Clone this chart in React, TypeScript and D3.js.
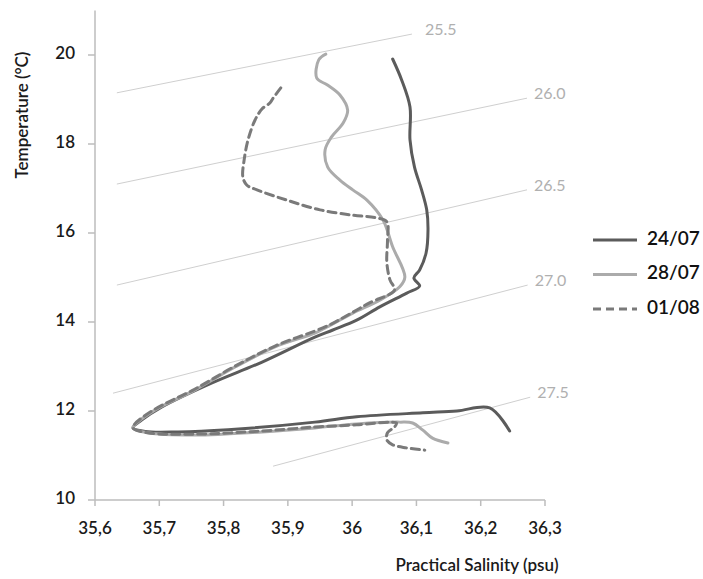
import React from "react";
import * as d3 from "d3";

const W = 703;
const H = 579;

// Salinity (psu) / Temperature (°C) profiles
const s2407 = [36.063, 36.077, 36.09, 36.09, 36.097, 36.108, 36.116, 36.118, 36.115, 36.105, 36.096, 36.105, 36.085, 36.043, 36.007, 35.97, 35.942, 35.86, 35.782, 35.704, 35.673, 35.659, 35.678, 35.729, 35.807, 35.942, 36.007, 36.11, 36.163, 36.214, 36.245];
const t2407 = [19.91, 19.44, 18.83, 18.09, 17.48, 16.97, 16.52, 16.07, 15.55, 15.17, 14.99, 14.81, 14.65, 14.34, 14.04, 13.82, 13.66, 13.1, 12.63, 12.09, 11.8, 11.62, 11.54, 11.53, 11.58, 11.75, 11.87, 11.96, 12.0, 12.07, 11.55];

const s2807 = [35.959, 35.948, 35.945, 35.961, 35.981, 35.993, 35.986, 35.968, 35.958, 35.962, 35.981, 36.001, 36.023, 36.048, 36.063, 36.082, 36.074, 36.043, 36.001, 35.961, 35.942, 35.88, 35.818, 35.755, 35.693, 35.662, 35.659, 35.682, 35.755, 35.86, 35.942, 36.007, 36.074, 36.094, 36.11, 36.125, 36.149];
const t2807 = [20.02, 19.89, 19.48, 19.33, 19.1, 18.76, 18.47, 18.16, 17.87, 17.48, 17.19, 16.97, 16.74, 16.29, 15.69, 15.01, 14.79, 14.49, 14.2, 13.89, 13.75, 13.44, 12.99, 12.47, 12.02, 11.69, 11.62, 11.51, 11.46, 11.53, 11.62, 11.71, 11.75, 11.73, 11.57, 11.39, 11.28];

const s0108 = [35.889, 35.877, 35.872, 35.86, 35.849, 35.838, 35.832, 35.83, 35.836, 35.852, 35.898, 35.95, 36.001, 36.038, 36.054, 36.055, 36.054, 36.059, 36.066, 36.027, 36.001, 35.961, 35.88, 35.818, 35.755, 35.693, 35.662, 35.659, 35.682, 35.755, 35.86, 35.942, 36.007, 36.059, 36.069, 36.066, 36.055, 36.054, 36.063, 36.085, 36.113];
const t0108 = [19.26, 19.03, 18.92, 18.79, 18.54, 18.09, 17.64, 17.26, 17.08, 16.97, 16.74, 16.52, 16.4, 16.34, 16.25, 15.84, 15.33, 14.94, 14.72, 14.43, 14.22, 13.91, 13.46, 13.01, 12.49, 12.04, 11.71, 11.62, 11.51, 11.48, 11.55, 11.64, 11.69, 11.75, 11.73, 11.64, 11.51, 11.35, 11.24, 11.17, 11.12];

// isopycnal (sigma-t) lines: endpoints in salinity / temperature
const isoLabels = ["25.5", "26.0", "26.5", "27.0", "27.5"];
const isoS0 = [35.634, 35.634, 35.634, 35.628, 35.877];
const isoT0 = [19.15, 17.1, 14.83, 12.4, 10.76];
const isoS1 = [36.093, 36.272, 36.272, 36.273, 36.277];
const isoT1 = [20.47, 19.03, 16.97, 14.83, 12.31];

const xTicks = [35.6, 35.7, 35.8, 35.9, 36.0, 36.1, 36.2, 36.3];
const xTickLabels = ["35,6", "35,7", "35,8", "35,9", "36", "36,1", "36,2", "36,3"];
const yTicks = [10, 12, 14, 16, 18, 20];

const seriesNames = ["24/07", "28/07", "01/08"];
const seriesColors = ["#5b5b5b", "#ababab", "#7a7a7a"];
const seriesDash = ["", "", "8,5"];

const FONT = "Lato, 'Open Sans', sans-serif";

export default function App() {
  const x = d3.scaleLinear().domain([35.6, 36.3]).range([95, 545]);
  const y = d3.scaleLinear().domain([10, 21]).range([500, 10.5]);

  const series = [
    d3.zip(s2407, t2407),
    d3.zip(s2807, t2807),
    d3.zip(s0108, t0108),
  ];
  const line = d3
    .line<number[]>()
    .x((d) => x(d[0]))
    .y((d) => y(d[1]))
    .curve(d3.curveCatmullRom.alpha(0.5));

  return (
    <svg
      width={W}
      height={H}
      style={{ position: "absolute", left: 0, top: 0, background: "#fff" }}
      fontFamily={FONT}
    >
      {/* isopycnals */}
      {isoLabels.map((lab, i) => (
        <g key={lab}>
          <line
            x1={x(isoS0[i])}
            y1={y(isoT0[i])}
            x2={x(isoS1[i])}
            y2={y(isoT1[i])}
            stroke="#cfcfcf"
            strokeWidth={1}
          />
          <text
            x={x(isoS1[i]) + (i === 0 ? 13 : 7)}
            y={y(isoT1[i]) - 3}
            fontSize={16}
            fill="#b0b0b0"
            dominantBaseline="middle"
          >
            {lab}
          </text>
        </g>
      ))}

      {/* axes */}
      <line x1={95} x2={95} y1={y.range()[1]} y2={500} stroke="#bdbdbd" strokeWidth={1.5} />
      <line x1={95} x2={545} y1={500} y2={500} stroke="#bdbdbd" strokeWidth={1.5} />
      {yTicks.map((t) => (
        <g key={t}>
          <line x1={88} x2={95} y1={y(t)} y2={y(t)} stroke="#bdbdbd" strokeWidth={1.5} />
          <text
            x={75}
            y={y(t)}
            textAnchor="end"
            dominantBaseline="middle"
            fontSize={17}
            fontWeight={600}
            fill="#1a1a1a"
          >
            {t}
          </text>
        </g>
      ))}
      {xTicks.map((t, i) => (
        <g key={t}>
          <line x1={x(t)} x2={x(t)} y1={500} y2={506} stroke="#bdbdbd" strokeWidth={1.5} />
          <text
            x={x(t)}
            y={530}
            textAnchor="middle"
            dominantBaseline="middle"
            fontSize={17}
            fontWeight={600}
            fill="#1a1a1a"
          >
            {xTickLabels[i]}
          </text>
        </g>
      ))}

      <text
        transform="translate(24,115) rotate(-90)"
        textAnchor="middle"
        dominantBaseline="middle"
        fontSize={17}
        fontWeight={600}
        fill="#1a1a1a"
      >
        Temperature (°C)
      </text>
      <text
        x={477}
        y={567}
        textAnchor="middle"
        dominantBaseline="middle"
        fontSize={17}
        fontWeight={600}
        fill="#1a1a1a"
      >
        Practical Salinity (psu)
      </text>

      {/* profiles */}
      {series.map((d, i) => (
        <path
          key={seriesNames[i]}
          d={line(d) || ""}
          fill="none"
          stroke={seriesColors[i]}
          strokeWidth={3}
          strokeDasharray={seriesDash[i] || undefined}
          strokeLinejoin="round"
          strokeLinecap="round"
        />
      ))}

      {/* legend */}
      {seriesNames.map((n, i) => (
        <g key={n} transform={`translate(0,${240 + i * 34.5})`}>
          <line
            x1={593}
            x2={637}
            y1={0}
            y2={0}
            stroke={seriesColors[i]}
            strokeWidth={3}
            strokeDasharray={seriesDash[i] || undefined}
          />
          <text x={647} y={0} dominantBaseline="middle" fontSize={19} fontWeight={600} fill="#111">
            {n}
          </text>
        </g>
      ))}
    </svg>
  );
}
